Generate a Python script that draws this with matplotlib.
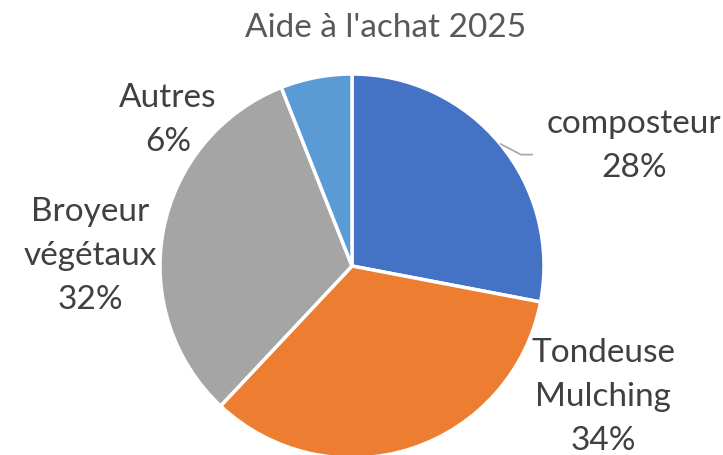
import numpy as np
import matplotlib.pyplot as plt

# data
categories = ["composteur", "Tondeuse\nMulching", "Broyeur\nvégétaux", "Autres"]
shares = [28, 34, 32, 6]
colors = ["#4472C4", "#ED7D31", "#A5A5A5", "#5B9BD5"]

plt.rcParams["font.family"] = ["Lato", "DejaVu Sans"]

W, H = 723, 456
fig = plt.figure(figsize=(W / 100, H / 100), dpi=100)
ax = fig.add_axes([0, 0, 1, 1])

# work in pixel-like coordinates (y up)
cx, cy, r = 352, H - 267, 192
wedges, _ = ax.pie(shares, colors=colors, startangle=90, counterclock=False,
                   center=(cx, cy), radius=r,
                   wedgeprops=dict(edgecolor="white", linewidth=2.5))
ax.set_xlim(0, W)
ax.set_ylim(0, H)
ax.set_aspect("equal")
ax.axis("off")

# label centres (pixels from top-left); composteur runs off the right edge as in the original
label_pos = [(634, 146), (603, 397), (90, 256), (168, 120)]
for name, val, (x, y) in zip(categories, shares, label_pos):
    ax.text(x, H - y, f"{name}\n{val}%", ha="center", va="center",
            fontsize=24, color="#404040", linespacing=1.6)

# leader line for the first slice
mid = np.deg2rad(90 - shares[0] / sum(shares) * 360 / 2)
x0, y0 = cx + r * np.cos(mid), cy + r * np.sin(mid)
ax.plot([x0, x0 + 21, x0 + 33], [y0, y0 - 11, y0 - 11],
        color="#A6A6A6", lw=1.2, solid_capstyle="butt")

fig.text(386 / W, 1 - 28 / H, "Aide à l'achat 2025", ha="center", va="center",
         fontsize=24, color="#595959")

fig.savefig("out.png", dpi=100)
